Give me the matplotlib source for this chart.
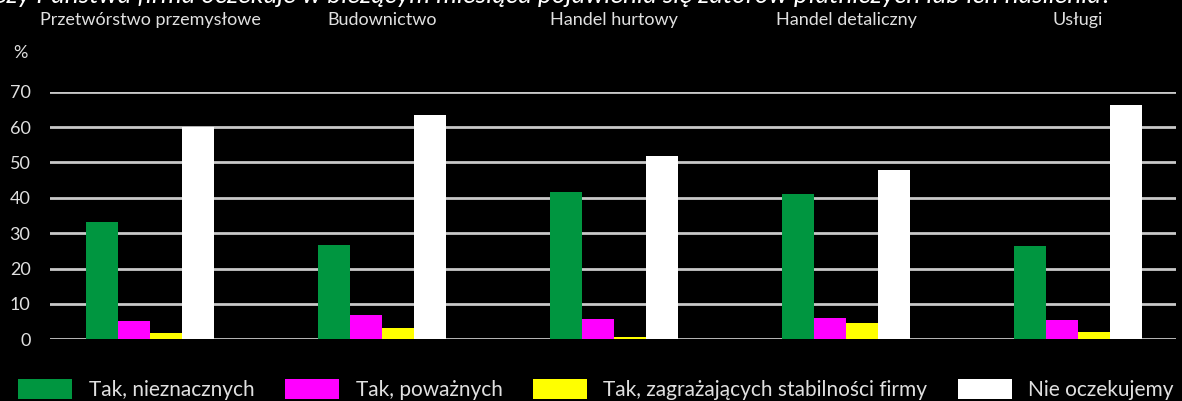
import numpy as np
import matplotlib
matplotlib.use('Agg')
import matplotlib.pyplot as plt

plt.rcParams['font.family'] = ['Lato', 'DejaVu Sans']

categories = ['Przetwórstwo przemysłowe', 'Budownictwo', 'Handel hurtowy',
              'Handel detaliczny', 'Usługi']
series_names = ['Tak, nieznacznych', 'Tak, poważnych',
                'Tak, zagrażających stabilności firmy', 'Nie oczekujemy']
tak_nieznacznych = [33.2, 26.8, 41.7, 41.0, 26.3]
tak_powaznych = [5.3, 6.8, 5.7, 6.0, 5.5]
tak_zagrazajacych = [1.7, 3.3, 0.7, 4.6, 2.1]
nie_oczekujemy = [60.0, 63.4, 51.7, 48.0, 66.2]
yticks = [0, 10, 20, 30, 40, 50, 60, 70]

colors = ['#009640', '#ff00ff', '#ffff00', '#ffffff']
title = 'Czy Państwa firma oczekuje w bieżącym miesiącu pojawienia się zatorów płatniczych lub ich nasilenia?'

W, H = 1182, 401
fig = plt.figure(figsize=(W / 100, H / 100), dpi=100, facecolor='black')
ax = fig.add_axes([50 / W, (H - 339.3) / H, (1176 - 50) / W, (339.3 - 91.7) / H])
ax.set_facecolor('black')

x = np.arange(len(categories))
bw = 0.138
all_series = [tak_nieznacznych, tak_powaznych, tak_zagrazajacych, nie_oczekujemy]
for i, (vals, col, name) in enumerate(zip(all_series, colors, series_names)):
    ax.bar(x + (i - 1.5) * bw, vals, width=bw, color=col, label=name, zorder=3)

ax.set_ylim(0, 70)
ax.set_xlim(-0.432, 4.423)
ax.set_yticks(yticks)
ax.yaxis.grid(True, color='#c8c8c8', linewidth=2.0, zorder=1)
ax.set_axisbelow(True)
for s in ax.spines.values():
    s.set_visible(False)
ax.tick_params(axis='y', length=0, pad=14, labelsize=13, labelcolor='#e0e0e0')

# category names sit above the plot
ax.xaxis.tick_top()
ax.set_xticks(x)
ax.set_xticklabels(categories)
ax.tick_params(axis='x', length=0, pad=46, labelsize=13, labelcolor='#e0e0e0')

fig.text(20 / W, (H - 53) / H, '%', color='#e0e0e0', fontsize=13,
         ha='center', va='center')
# title is cropped at the top/left edge in the source picture
fig.text(1112 / W, (H - 3) / H, title, color='white', fontsize=19,
         style='italic', ha='right', va='baseline')

leg = fig.legend(loc='lower left', bbox_to_anchor=(18 / W, 1 / H), ncol=4,
                 frameon=False, fontsize=15, handlelength=2.6, handleheight=1.15,
                 handletextpad=0.8, columnspacing=1.45, labelcolor='#e0e0e0',
                 borderaxespad=0, borderpad=0)

fig.savefig('out.png', dpi=100, facecolor='black')
